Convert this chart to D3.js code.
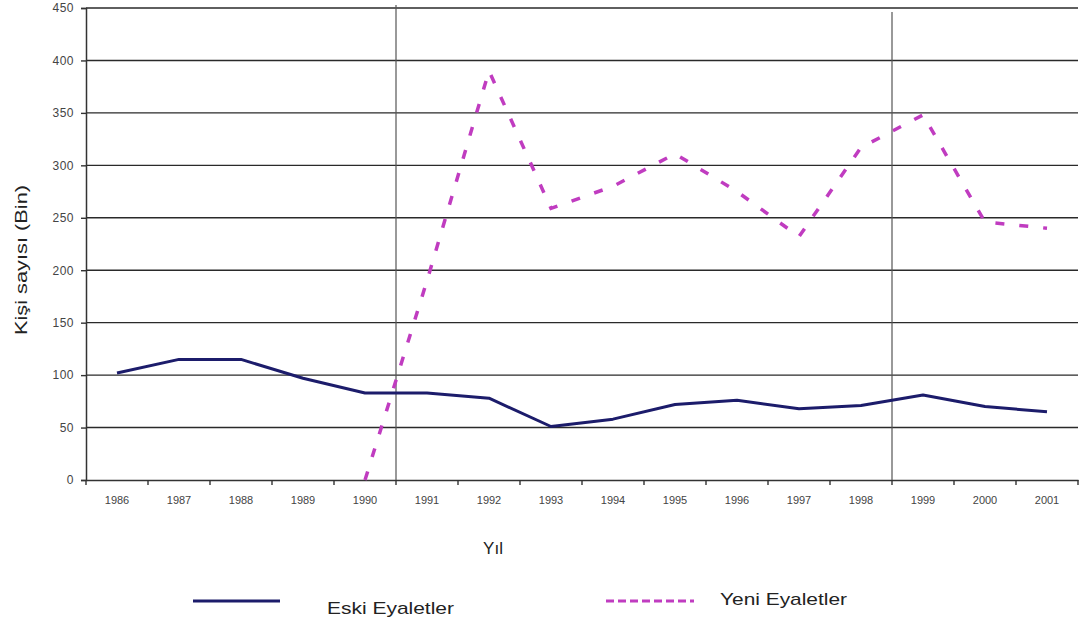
<!DOCTYPE html>
<html><head><meta charset="utf-8">
<script src="https://cdn.jsdelivr.net/npm/d3@7/dist/d3.min.js"></script>
<style>body{margin:0;background:#fff;} svg{display:block;font-family:"Liberation Sans",Arial,sans-serif;}</style>
</head><body>
<svg id="c" width="1088" height="623"></svg>
<script>
const years = ["1986","1987","1988","1989","1990","1991","1992","1993","1994","1995","1996","1997","1998","1999","2000","2001"];
const eski = [102,115,115,97,83,83,78,51,58,72,76,68,71,81,70,65];
const yeniYears = ["1990","1991","1992","1993","1994","1995","1996","1997","1998","1999","2000","2001"];
const yeni = [0,190,390,259,280,311,275,232,317,348,246,240];
const yTicks = [0,50,100,150,200,250,300,350,400,450];
const markerYears = ["1990","1998"];

const svg = d3.select("#c");
const L = 86, R = 1078, T = 8, B = 480;
const x = d3.scaleBand().domain(years).range([L, R]);
const y = d3.scaleLinear().domain([0, 450]).range([B, T]);
const cx = d => x(d) + x.bandwidth()/2;

// gridlines
svg.append("g").selectAll("line").data(yTicks.filter(d=>d>0)).join("line")
  .attr("x1", L).attr("x2", R).attr("y1", d=>y(d)).attr("y2", d=>y(d))
  .attr("stroke", "#2a2a2a").attr("stroke-width", 1.4);

// y axis
const ya = svg.append("g").attr("transform", `translate(${L},0)`)
  .call(d3.axisLeft(y).tickValues(yTicks).tickSize(5).tickPadding(7));
ya.select(".domain").attr("stroke", "#333").attr("stroke-width", 1.5);
ya.selectAll(".tick line").attr("stroke", "#333").attr("stroke-width", 1.4);
ya.selectAll("text").attr("font-size", 12).attr("letter-spacing", 0.5).attr("fill", "#444");

// x axis
const xa = svg.append("g").attr("transform", `translate(0,${B})`)
  .call(d3.axisBottom(x).tickSize(0).tickPadding(16));
xa.select(".domain").attr("stroke", "#333").attr("stroke-width", 1.5);
xa.selectAll("text").attr("font-size", 11).attr("fill", "#444");
// category boundary ticks
const bounds = years.map(d => x(d)).concat([R]);
svg.append("g").selectAll("line").data(bounds).join("line")
  .attr("x1", d=>d).attr("x2", d=>d).attr("y1", B).attr("y2", B+5)
  .attr("stroke", "#333").attr("stroke-width", 1.4);

// scanned vertical marker lines
svg.append("g").selectAll("line").data(markerYears).join("line")
  .attr("x1", d => x(d) + x.bandwidth()).attr("x2", d => x(d) + x.bandwidth())
  .attr("y1", (d,i)=> i===0 ? 5 : 12).attr("y2", B)
  .attr("stroke", "#555").attr("stroke-width", 1.2);

// lines
const lineE = d3.line().x((d,i)=>cx(years[i])).y(d=>y(d));
svg.append("path").datum(eski).attr("d", lineE)
  .attr("fill","none").attr("stroke","#1c1c6b").attr("stroke-width",3).attr("stroke-linejoin","round");
const lineY = d3.line().x((d,i)=>cx(yeniYears[i])).y(d=>y(d));
svg.append("path").datum(yeni).attr("d", lineY)
  .attr("fill","none").attr("stroke","#c03cc0").attr("stroke-width",3.5).attr("stroke-dasharray","9,15");

// axis titles
svg.append("text").attr("x", 493).attr("y", 554).attr("text-anchor","middle")
  .attr("font-size", 17).attr("fill","#222").text("Yıl");
svg.append("text").attr("transform","translate(27,260) rotate(-90)").attr("text-anchor","middle")
  .attr("font-size", 17).attr("fill","#222")
  .attr("textLength", 150).attr("lengthAdjust","spacingAndGlyphs").text("Kişi sayısı (Bin)");

// legend
const lg = svg.append("g");
lg.append("line").attr("x1",193).attr("x2",280).attr("y1",601).attr("y2",601)
  .attr("stroke","#1c1c6b").attr("stroke-width",3);
lg.append("text").attr("x",327).attr("y",614).attr("font-size",17).attr("fill","#222")
  .attr("textLength",127).attr("lengthAdjust","spacingAndGlyphs").text("Eski Eyaletler");
lg.append("line").attr("x1",606).attr("x2",694).attr("y1",601).attr("y2",601)
  .attr("stroke","#c03cc0").attr("stroke-width",3).attr("stroke-dasharray","8,4");
lg.append("text").attr("x",720).attr("y",605).attr("font-size",17).attr("fill","#222")
  .attr("textLength",127).attr("lengthAdjust","spacingAndGlyphs").text("Yeni Eyaletler");
</script>
</body></html>
